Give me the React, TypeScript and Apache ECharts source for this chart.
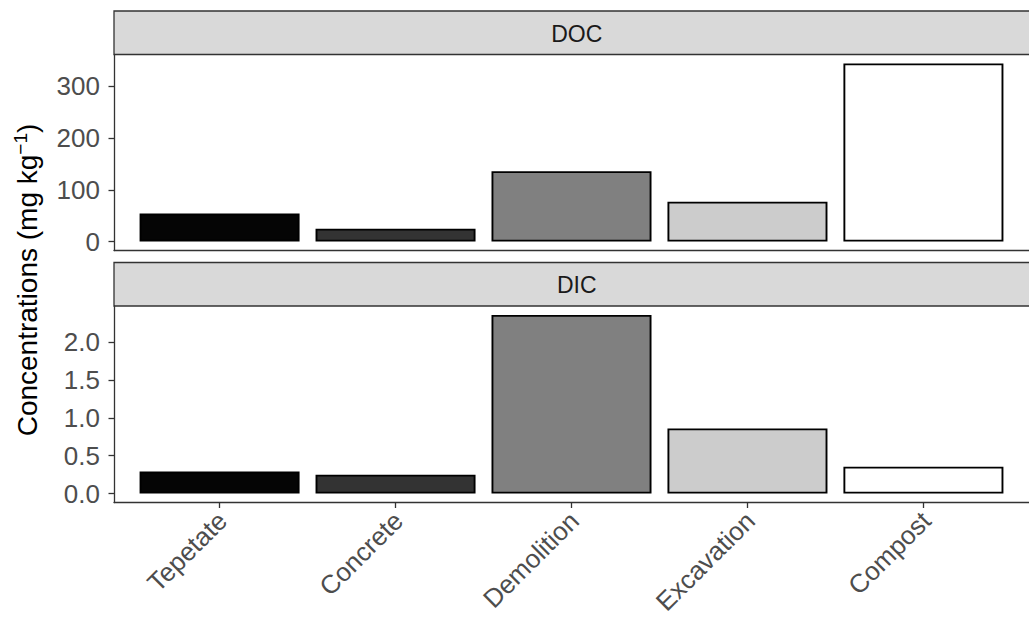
import React, { useEffect, useRef } from "react";
import * as echarts from "echarts";

const CATEGORIES = ["Tepetate", "Concrete", "Demolition", "Excavation", "Compost"];
const DOC = [54, 25, 136, 77, 344];
const DIC = [0.29, 0.25, 2.36, 0.86, 0.355];
const FILLS = ["#050505", "#333333", "#808080", "#CCCCCC", "#FFFFFF"];
const DOC_TICKS = [0, 100, 200, 300];
const DIC_TICKS = [0, 0.5, 1, 1.5, 2];
const X_POS = [1, 2, 3, 4, 5];
const PANELS = ["DOC", "DIC"];

const FONT = "'Liberation Sans', Arial, Helvetica, sans-serif";
const LINE = "#333333";

export default function App() {
  const ref = useRef<HTMLDivElement>(null);
  useEffect(() => {
    if (!ref.current) return;
    const chart = echarts.init(ref.current, null, { renderer: "svg" });
    const left = 114;
    const width = 925.6;
    const grids = [
      { left, top: 54.5, width, height: 196 },
      { left, top: 306, width, height: 196.5 },
    ];
    const stripTops = [11, 262.5];
    const stripH = 43.5;
    const range = (arr: number[]) => {
      const mx = Math.max(...arr);
      return { min: -0.05 * mx, max: mx * 1.05 };
    };
    const docR = range(DOC);
    const dicR = range(DIC);

    const xBase = (gi: number, showLabels: boolean) => ({
      type: "value",
      gridIndex: gi,
      min: 0.4,
      max: 5.6,
      splitLine: { show: false },
      axisLine: { show: true, onZero: false, lineStyle: { color: LINE, width: 1.3 } },
      axisTick: {
        show: showLabels,
        customValues: X_POS,
        length: 5.5,
        lineStyle: { color: LINE, width: 1.3 },
      },
      axisLabel: showLabels
        ? {
            show: true,
            customValues: X_POS,
            formatter: (v: number) => CATEGORIES[Math.round(v) - 1] ?? "",
            rotate: 45,
            align: "right",
            verticalAlign: "top",
            lineHeight: 8,
            margin: 11,
            fontSize: 26,
            fontFamily: FONT,
            color: "#4D4D4D",
          }
        : { show: false },
    });

    const yBase = (gi: number, r: { min: number; max: number }, ticks: number[], fmt: (v: number) => string) => ({
      type: "value",
      gridIndex: gi,
      min: r.min,
      max: r.max,
      splitLine: { show: false },
      axisLine: { show: true, onZero: false, lineStyle: { color: LINE, width: 1.3 } },
      axisTick: { show: true, customValues: ticks, length: 5.5, lineStyle: { color: LINE, width: 1.3 } },
      axisLabel: {
        show: true,
        customValues: ticks,
        formatter: fmt,
        margin: 14,
        fontSize: 26,
        fontFamily: FONT,
        color: "#4D4D4D",
      },
    });

    const mkSeries = (gi: number, vals: number[]) => ({
      type: "bar",
      xAxisIndex: gi,
      yAxisIndex: gi,
      barWidth: 160,
      data: vals.map((v, i) => ({
        value: [X_POS[i], v],
        itemStyle: { color: FILLS[i], borderColor: "#000", borderWidth: 1.9 },
      })),
    });

    const graphic: any[] = [];
    PANELS.forEach((name, i) => {
      graphic.push({
        type: "rect",
        shape: { x: left, y: stripTops[i], width, height: stripH },
        style: { fill: "#D9D9D9", stroke: LINE, lineWidth: 1.3 },
      });
      graphic.push({
        type: "text",
        x: left + width / 2,
        y: stripTops[i] + stripH / 2 + 1,
        style: {
          text: name,
          fontSize: 23,
          fontFamily: FONT,
          fill: "#1A1A1A",
          align: "center",
          verticalAlign: "middle",
        },
      });
    });
    graphic.push({
      type: "text",
      x: 27.5,
      y: 280,
      rotation: Math.PI / 2,
      style: {
        text: "{a|Concentrations (mg kg}{s|−1}{a|)}",
        align: "center",
        verticalAlign: "middle",
        rich: {
          a: { fontSize: 28, fontFamily: FONT, fill: "#000", lineHeight: 34 },
          s: { fontSize: 19, fontFamily: FONT, fill: "#000", lineHeight: 19, verticalAlign: "top" },
        },
      },
    });

    chart.setOption({
      animation: false,
      backgroundColor: "#FFFFFF",
      grid: grids,
      xAxis: [xBase(0, false), xBase(1, true)],
      yAxis: [
        yBase(0, docR, DOC_TICKS, (v: number) => String(v)),
        yBase(1, dicR, DIC_TICKS, (v: number) => v.toFixed(1)),
      ],
      series: [mkSeries(0, DOC), mkSeries(1, DIC)],
      graphic,
    });
    return () => chart.dispose();
  }, []);
  return (
    <div
      ref={ref}
      style={{ position: "fixed", left: 0, top: 0, width: 1029, height: 623, background: "#fff" }}
    />
  );
}
